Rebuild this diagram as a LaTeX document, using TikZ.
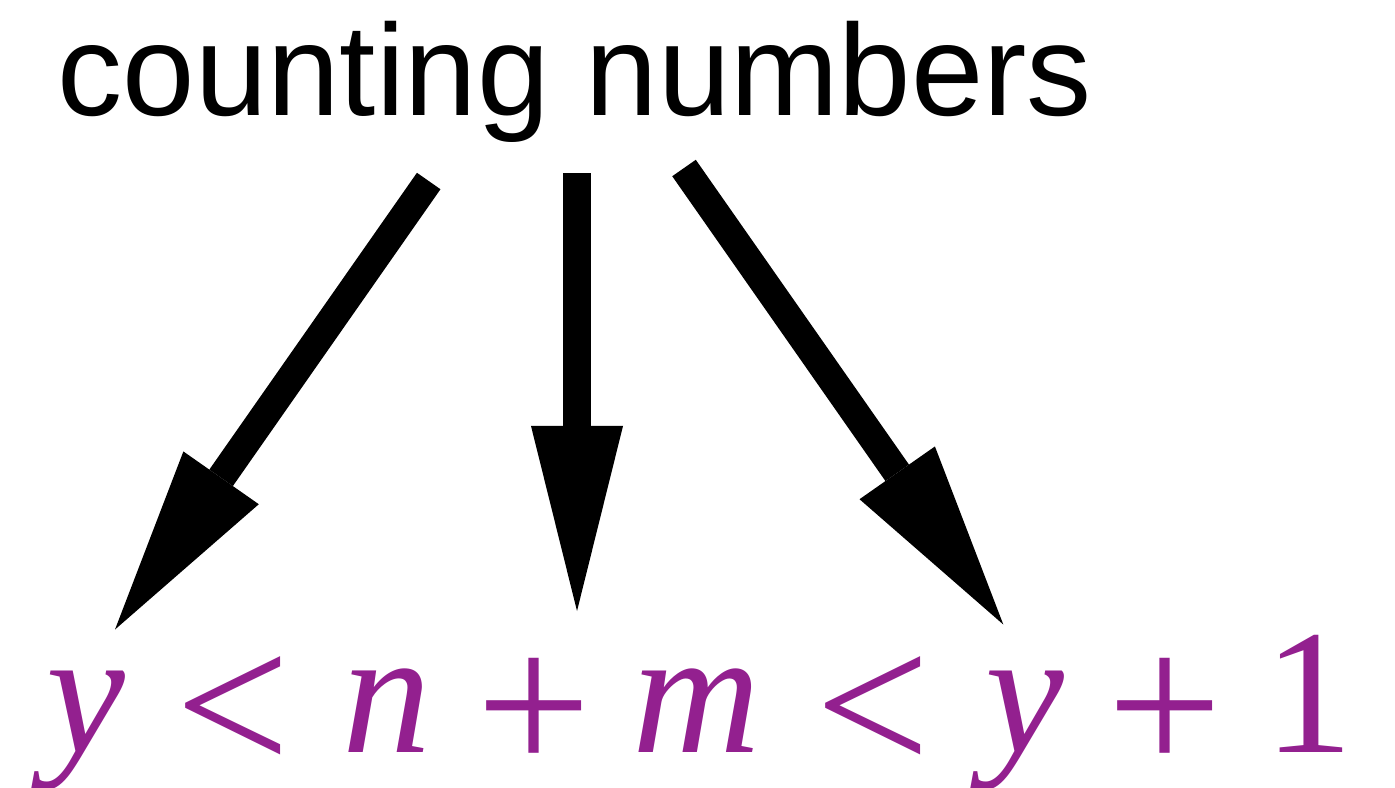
\documentclass[tikz,border=0pt]{standalone}
\usepackage{fontspec}
\setmainfont{Liberation Serif}
\newfontfamily\labelfont{Liberation Sans}
\usetikzlibrary{arrows.meta}
\definecolor{formulapurple}{RGB}{147,32,143}

\begin{document}
\begin{tikzpicture}[x=0.01cm, y=-0.01cm,
  fatarrow/.style={line width=0.287cm, -{Triangle[length=1.85cm, width=0.92cm, line width=0pt]}},
  letter/.style={inner sep=0pt, anchor=base, text=formulapurple, font=\fontsize{50.5}{60}\selectfont\itshape},
  relsym/.style={inner sep=0pt, anchor=base, text=formulapurple, font=\fontsize{58}{68}\selectfont}]
\useasboundingbox (0,0) rectangle (1395,787);
% Title
\node[inner sep=0pt, anchor=base, font=\labelfont\fontsize{37}{44}\selectfont] (title) at (575,115) {counting numbers};
% Formula, one node per symbol
\node[letter] (y1) at (86,752) {y};
\node[relsym] (lt1) at (233,773) {<};
\node[letter] (n) at (387,752) {n};
\node[relsym] (plus1) at (534,773) {+};
\node[letter] (m) at (697,752) {m};
\node[relsym] (lt2) at (873,773) {<};
\node[letter] (y2) at (1025,752) {y};
\node[relsym] (plus2) at (1165,773) {+};
\node[letter, font=\fontsize{50.5}{60}\selectfont] (one) at (1309,752) {1};
% Arrow ends
\coordinate (tailL) at (428.7,181);
\coordinate (tipL) at (115,629.5);
\coordinate (tailM) at (577,173);
\coordinate (tipM) at (577,611);
\coordinate (tailR) at (684,168);
\coordinate (tipR) at (1003.3,624.5);
% Arrows
\draw[fatarrow] (tailL) -- (tipL);
\draw[fatarrow] (tailM) -- (tipM);
\draw[fatarrow] (tailR) -- (tipR);
\end{tikzpicture}
\end{document}
